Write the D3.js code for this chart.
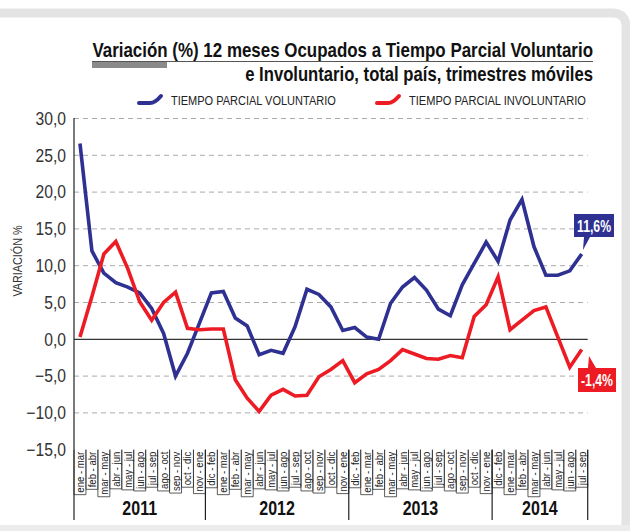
<!DOCTYPE html>
<html>
<head>
<meta charset="utf-8">
<script src="https://cdn.jsdelivr.net/npm/d3@7"></script>
<style>
  body { margin: 0; background: #fff; }
  svg { display: block; }
  text { font-family: "Liberation Sans", Arial, sans-serif; }
</style>
</head>
<body>
<div id="chart"></div>
<script>
// data (trimestres móviles, variación 12 meses %)
const periodos = [
  'ene - mar','feb - abr','mar - may','abr - jun','may - jul','jun - ago','jul - sep','ago - oct','sep - nov','oct - dic','nov - ene',
  'dic - feb','ene - mar','feb - abr','mar - may','abr - jun','may - jul','jun - ago','jul - sep','ago - oct','sep - nov','oct - dic','nov - ene',
  'dic - feb','ene - mar','feb - abr','mar - may','abr - jun','may - jul','jun - ago','jul - sep','ago - oct','sep - nov','oct - dic','nov - ene',
  'dic - feb','ene - mar','feb - abr','mar - may','abr - jun','may - jul','jun - ago','jul - sep'
];
const anios = ['2011', '2012', '2013', '2014'];
const periodosPorAnio = [11, 12, 12, 8];

const voluntario = [
  26.6, 12.0, 9.0, 7.7, 7.1, 6.3, 4.2, 0.8, -5.0, -1.9, 2.2,
  6.3, 6.5, 2.9, 1.8, -2.1, -1.5, -1.9, 1.7, 6.8, 6.1, 4.4,
  1.2, 1.6, 0.3, 0.0, 4.9, 7.1, 8.4, 6.7, 4.1, 3.2, 7.4, 10.3,
  13.2, 10.6, 16.2, 19.0, 12.6, 8.7, 8.7, 9.3, 11.6
];
const involuntario = [
  0.3, 5.8, 11.6, 13.3, 9.6, 5.1, 2.6, 5.0, 6.4, 1.5, 1.3,
  1.4, 1.4, -5.5, -8.0, -9.8, -7.6, -6.8, -7.7, -7.6, -5.1, -4.1,
  -2.9, -5.9, -4.7, -4.1, -2.9, -1.4, -2.0, -2.6, -2.7, -2.2, -2.5, 3.1,
  4.7, 8.5, 1.3, 2.6, 3.9, 4.4, 0.3, -3.8, -1.4
];
const yTicks = [30, 25, 20, 15, 10, 5, 0, -5, -10, -15];

const seriesNombres = ['TIEMPO PARCIAL VOLUNTARIO', 'TIEMPO PARCIAL INVOLUNTARIO'];
const seriesColores = ['#2e3192', '#ed1c24'];
const etiquetasFinales = ['11,6%', '-1,4%'];

const W = 630, H = 531;
const fmt = v => d3.format('.1f')(v).replace('.', ',');

// no narrow font installed: squeeze text horizontally
function condense(sel, f) {
  sel.each(function() {
    const l = this.getComputedTextLength();
    d3.select(this).attr('textLength', l * f).attr('lengthAdjust', 'spacingAndGlyphs');
  });
}
function fitTo(sel, w) {
  sel.attr('textLength', w).attr('lengthAdjust', 'spacingAndGlyphs');
}
// squeeze with a transform so the box of the text is right too
function squeezeAt(sel, px, py, w) {
  sel.each(function() {
    const l = this.getComputedTextLength();
    d3.select(this).attr('transform', `translate(${px},${py}) scale(${w / l},1)`);
  });
}

const svg = d3.select('#chart').append('svg').attr('width', W).attr('height', H);

// frame
svg.append('path')
  .attr('d', `M0,13 H612 Q626,13 626,27 V531`)
  .attr('fill', 'none').attr('stroke', '#e4e4e4').attr('stroke-width', 9);
svg.append('rect').attr('x', 0).attr('y', 525).attr('width', W).attr('height', 6).attr('fill', '#ececec');

// scales
const x = d3.scaleBand().domain(d3.range(periodos.length)).range([74, 587.7]).padding(0);
const y = d3.scaleLinear().domain([-15, 30]).range([449.7, 118.5]);
const xc = i => x(i) + x.bandwidth() / 2;
const xEnd = x.range()[1];

// title
const title = svg.append('g');
title.append('text').attr('text-anchor', 'end')
  .style('font-size', '20px').style('font-weight', 'bold').attr('fill', '#111')
  .text('Variación (%) 12 meses Ocupados a Tiempo Parcial Voluntario')
  .call(squeezeAt, 593, 57, 501);
title.append('line').attr('x1', 92).attr('x2', 593).attr('y1', 61.5).attr('y2', 61.5)
  .attr('stroke', '#555').attr('stroke-width', 1);
title.append('rect').attr('x', 92).attr('y', 62).attr('width', 75).attr('height', 6).attr('fill', '#8a8a8a');
title.append('text').attr('text-anchor', 'end')
  .style('font-size', '20px').style('font-weight', 'bold').attr('fill', '#111')
  .text('e Involuntario, total país, trimestres móviles')
  .call(squeezeAt, 593, 81, 348);

// legend
const legX = [137, 375];
const legW = [165, 177];
seriesNombres.forEach((n, k) => {
  const g = svg.append('g').attr('transform', `translate(${legX[k]},0)`);
  g.append('path').attr('d', 'M2,103 H13 Q18,103 24,96')
    .attr('fill', 'none').attr('stroke', seriesColores[k]).attr('stroke-width', 4).attr('stroke-linecap', 'round');
  g.append('text').style('font-size', '13px').attr('fill', '#222').text(n)
    .call(squeezeAt, 34, 105, legW[k]);
});

// gridlines
svg.append('g').selectAll('line').data(yTicks.filter(d => d !== 0 && d !== -15)).join('line')
  .attr('x1', 74).attr('x2', xEnd).attr('y1', d => y(d)).attr('y2', d => y(d))
  .attr('stroke', '#aaa').attr('stroke-width', 1).attr('stroke-dasharray', '5,4');
svg.append('line').attr('x1', 74).attr('x2', xEnd).attr('y1', y(0)).attr('y2', y(0))
  .attr('stroke', '#000').attr('stroke-width', 1);

// y axis
const yAxis = svg.append('g').attr('transform', 'translate(74,0)')
  .call(d3.axisLeft(y).tickValues(yTicks).tickFormat(fmt).tickSize(0).tickPadding(8));
yAxis.select('.domain').remove();
yAxis.selectAll('text').style('font-size', '18px').attr('fill', '#333')
  .style('font-family', '"Liberation Sans", Arial, sans-serif')
  .call(condense, 0.87);
svg.append('line').attr('x1', 74).attr('x2', 74).attr('y1', 118).attr('y2', 520)
  .attr('stroke', '#222').attr('stroke-width', 1.2);
svg.append('text').attr('transform', 'translate(22,261) rotate(-90)').attr('text-anchor', 'middle')
  .style('font-size', '13px').attr('fill', '#333').text('VARIACIÓN %')
  .call(condense, 0.83);

// x tick labels, rotated
const labTop = y(-15) + 2;
const xl = svg.append('g');
const labs = xl.selectAll('text').data(periodos).join('text')
  .attr('transform', (d, i) => `translate(${xc(i) + 4},${labTop}) rotate(-90)`)
  .attr('text-anchor', 'end')
  .style('font-size', '11px').attr('fill', '#222')
  .text(d => d)
  .call(condense, 0.87);
const lens = [];
labs.each(function(d, i) { lens[i] = +this.getAttribute('textLength'); });
xl.selectAll('path').data(periodos).join('path')
  .attr('d', (d, i) => {
    const b = labTop + lens[i] + 2;
    return `M${x(i)},${y(-15)} V${b} H${x(i) + x.bandwidth()} V${y(-15)}`;
  })
  .attr('fill', 'none').attr('stroke', '#333').attr('stroke-width', 0.8);

// year separators and labels
let acc = 0;
anios.forEach((a, k) => {
  const i0 = acc, i1 = acc + periodosPorAnio[k] - 1;
  acc += periodosPorAnio[k];
  const xr = x(i1) + x.bandwidth();
  svg.append('line').attr('x1', xr).attr('x2', xr).attr('y1', y(-15)).attr('y2', 520)
    .attr('stroke', '#222').attr('stroke-width', 1.2);
  svg.append('text').attr('x', (x(i0) + xr) / 2).attr('y', 515).attr('text-anchor', 'middle')
    .style('font-size', '20px').style('font-weight', 'bold').attr('fill', '#111').text(a)
    .call(condense, 0.8);
});

// lines
const line = d3.line().x((d, i) => xc(i)).y(d => y(d)).curve(d3.curveLinear);
[voluntario, involuntario].forEach((s, k) => {
  svg.append('path').datum(s).attr('d', line)
    .attr('fill', 'none').attr('stroke', seriesColores[k]).attr('stroke-width', 3.6)
    .attr('stroke-linejoin', 'miter');
});

// end labels
const boxes = [
  { bx: 574, by: 214, w: 40, h: 23, tip: [[584, 237], [590, 237], [583, 250]] },
  { bx: 578, by: 368, w: 38, h: 24, tip: [[588, 368], [596, 368], [589, 356]] }
];
boxes.forEach((b, k) => {
  const g = svg.append('g');
  g.append('polygon').attr('points', b.tip.map(p => p.join(',')).join(' ')).attr('fill', seriesColores[k]);
  g.append('rect').attr('x', b.bx).attr('y', b.by).attr('width', b.w).attr('height', b.h).attr('fill', seriesColores[k]);
  g.append('text').attr('x', b.bx + b.w / 2).attr('y', b.by + b.h / 2 + 6).attr('text-anchor', 'middle')
    .style('font-size', '17px').style('font-weight', 'bold').attr('fill', '#fff').text(etiquetasFinales[k])
    .call(fitTo, b.w - 6);
});
</script>
</body>
</html>
